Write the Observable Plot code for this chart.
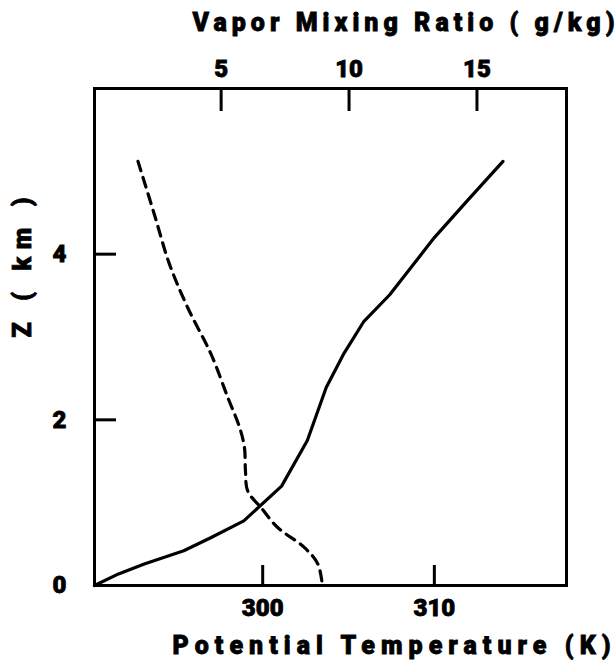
<!DOCTYPE html>
<html>
<head>
<meta charset="utf-8">
<script src="https://cdn.jsdelivr.net/npm/d3@7"></script>
<script src="https://cdn.jsdelivr.net/npm/@observablehq/plot@0.6"></script>
<style>
  body { margin: 0; background: white; }
  #chart { position: relative; width: 615px; height: 662px; }
  #chart svg { position: absolute; left: 0; top: 0; }
</style>
</head>
<body>
<div id="chart"></div>
<script>
// Potential temperature profile (solid)
const thetaHeight = [0, 0.14, 0.26, 0.42, 0.58, 0.78, 1.2, 1.75, 2.39, 2.79, 3.19, 3.51, 4.2, 4.64, 5.12];
const thetaValue  = [290.2, 291.6, 293.1, 295.4, 297.0, 298.9, 301.1, 302.6, 303.7, 304.7, 305.9, 307.4, 310.0, 311.9, 314.0];
// Vapor mixing ratio profile (dashed)
const qHeight = [5.12, 4.48, 3.88, 3.35, 2.79, 2.27, 1.91, 1.67, 1.39, 1.14, 0.94, 0.70, 0.46, 0.26, 0.02];
const qValue  = [1.75, 2.39, 2.98, 3.70, 4.61, 5.26, 5.72, 5.91, 5.95, 6.04, 6.56, 7.21, 8.25, 8.78, 8.95];
// Tick labels
const thetaTicks = [300, 310];
const qTicks = [5, 10, 15];
const zTicks = [0, 2, 4];
const xLabel = "Potential Temperature (K)";
const topLabel = "Vapor Mixing Ratio ( g/kg)";
const yLabel = "Z ( km )";

const thetaData = thetaHeight.map((z, i) => ({z, v: thetaValue[i]}));
const qData = qHeight.map((z, i) => ({z, v: qValue[i]}));

const W = 615, H = 662;
const margins = {marginLeft: 94, marginRight: 49, marginTop: 88, marginBottom: 77};
const font = "Roboto, 'Liberation Sans', Arial, sans-serif";

const plot1 = Plot.plot({
  width: W, height: H, ...margins,
  style: {fontFamily: font, fontWeight: "900", background: "white"},
  x: {domain: [290.2, 317.7]},
  y: {domain: [0, 6]},
  marks: [
    Plot.axisX({anchor: "bottom", ticks: thetaTicks, tickSize: -20, tickPadding: 33,
      tickFormat: d => String(d), strokeWidth: 3, fontSize: 24, fontWeight: "900", label: null}),
    Plot.axisY({anchor: "left", ticks: zTicks, tickSize: -22, tickPadding: 50,
      tickFormat: d => String(d), strokeWidth: 3, fontSize: 24, fontWeight: "900", label: null}),
    Plot.frame({strokeWidth: 3}),
    Plot.line(thetaData, {x: "v", y: "z", strokeWidth: 3.2, stroke: "black", strokeLinejoin: "round"}),
    Plot.text([xLabel], {text: d => d, frameAnchor: "bottom-left", textAnchor: "start",
      dx: 78, dy: 60, fontSize: 25, fontWeight: "900", lineAnchor: "middle"}),
    Plot.text([yLabel], {text: d => d, frameAnchor: "bottom-left", textAnchor: "start", rotate: -90,
      dx: -72, dy: -248, fontSize: 25, fontWeight: "900", lineAnchor: "middle"})
  ]
});

const plot2 = Plot.plot({
  width: W, height: H, ...margins,
  style: {fontFamily: font, fontWeight: "900", background: "transparent"},
  x: {domain: [0.05, 18.5]},
  y: {domain: [0, 6], axis: null},
  marks: [
    Plot.axisX({anchor: "top", ticks: qTicks, tickSize: -22, tickPadding: 34,
      tickFormat: d => String(d), strokeWidth: 3, fontSize: 24, fontWeight: "900", label: null}),
    Plot.line(qData, {x: "v", y: "z", strokeWidth: 3.2, stroke: "black",
      strokeDasharray: "10,7", curve: "catmull-rom"}),
    Plot.text([topLabel], {text: d => d, frameAnchor: "top-left", textAnchor: "start",
      dx: 98, dy: -66, fontSize: 25, fontWeight: "900", lineAnchor: "middle"})
  ]
});

const chart = document.getElementById("chart");
chart.appendChild(plot1);
chart.appendChild(plot2);
// heavy lettering as in the original; stretch the titles to the widths seen there
const lengths = {[xLabel]: 438, [topLabel]: 422, [yLabel]: 140};
for (const t of chart.querySelectorAll("text")) {
  t.style.fontWeight = "900";
  t.style.fill = "black";
  t.style.stroke = "black";
  t.style.strokeWidth = "0.8px";
  const s = t.textContent;
  if (s in lengths) {
    t.setAttribute("textLength", lengths[s]);
    t.setAttribute("lengthAdjust", "spacing");
  }
}
</script>
</body>
</html>
